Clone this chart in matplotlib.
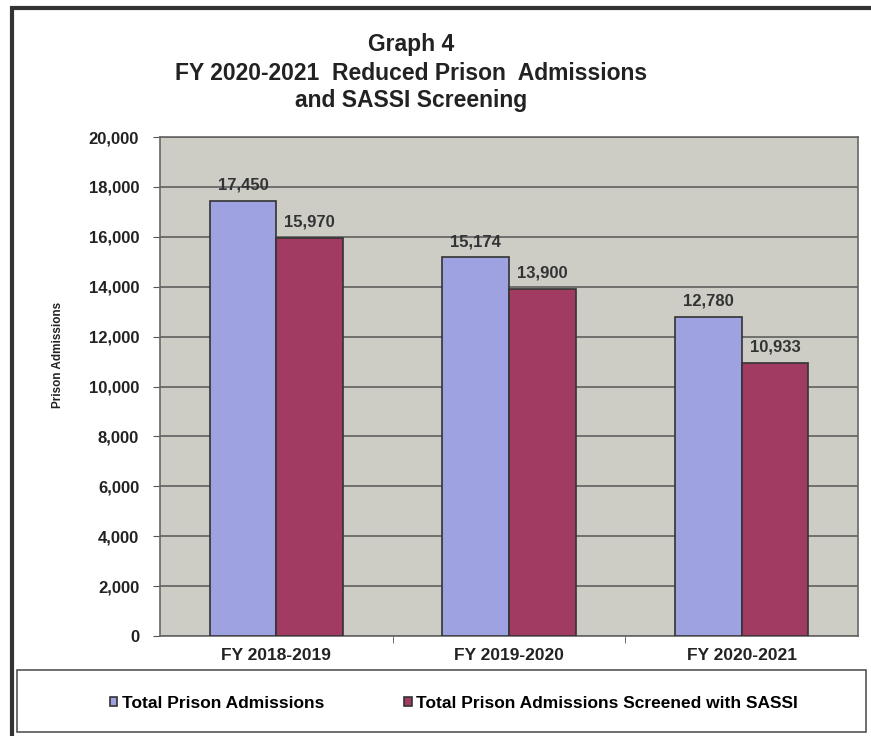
import matplotlib.pyplot as plt
import numpy as np
from matplotlib.patches import Rectangle

plt.rcParams['font.family'] = ['Liberation Sans', 'DejaVu Sans']
plt.rcParams['font.weight'] = 'bold'

years = ['FY 2018-2019', 'FY 2019-2020', 'FY 2020-2021']
total = [17450, 15174, 12780]
screened = [15970, 13900, 10933]
series_names = ['Total Prison Admissions', 'Total Prison Admissions Screened with SASSI']

fig = plt.figure(figsize=(8.71, 7.36), dpi=100)
ax = fig.add_axes([160 / 871, 1 - 636 / 736, 698 / 871, 499 / 736])

x = np.arange(len(years))
w = 0.286
b1 = ax.bar(x - w / 2, total, w, color='#9fa2e0', edgecolor='#333333', linewidth=1.2, label=series_names[0], zorder=3)
b2 = ax.bar(x + w / 2, screened, w, color='#a23b62', edgecolor='#333333', linewidth=1.2, label=series_names[1], zorder=3)

for bars in (b1, b2):
    for r in bars:
        ax.annotate(f'{int(r.get_height()):,}', (r.get_x() + r.get_width() / 2, r.get_height()),
                    xytext=(0, 6), textcoords='offset points', ha='center', va='bottom',
                    fontsize=12, fontweight='bold', color='#333333')

ax.set_facecolor('#cdcdc6')
ax.set_ylim(0, 20000)
ax.set_xlim(-0.5, 2.5)
ax.set_yticks(range(0, 20001, 2000))
ax.set_yticklabels([f'{v:,}' for v in range(0, 20001, 2000)], fontsize=12, fontweight='bold', color='#222222')
ax.yaxis.grid(True, color='#555555', linewidth=1.1, zorder=0)
ax.set_xticks(x)
ax.set_xticklabels(years, fontsize=12.5, fontweight='bold', color='#222222')
ax.tick_params(axis='x', length=0, pad=9)
ax.set_xticks([0.5, 1.5], minor=True)
ax.tick_params(axis='x', which='minor', length=5, color='#555555')
ax.tick_params(axis='y', length=5, color='#555555', pad=10)
for s in ax.spines.values():
    s.set_color('#666666')
    s.set_linewidth(1.2)

fig.text(58 / 871, 1 - 355 / 736, 'Prison Admissions', rotation=90, ha='center', va='center',
         fontsize=8.5, fontweight='bold', color='#222222', family=['Liberation Sans Narrow', 'Liberation Sans'])

tc = 411 / 871
fig.text(tc, 1 - 45 / 736, 'Graph 4', ha='center', va='center', fontsize=16.5, fontweight='bold', color='#222222')
fig.text(tc, 1 - 73 / 736, 'FY 2020-2021  Reduced Prison  Admissions', ha='center', va='center', fontsize=16.5, fontweight='bold', color='#222222')
fig.text(tc, 1 - 100 / 736, 'and SASSI Screening', ha='center', va='center', fontsize=16.5, fontweight='bold', color='#222222')

# outer border (right and bottom fall outside the picture)
fig.patches.append(Rectangle((12 / 871, -10 / 736), 880 / 871, 738 / 736, transform=fig.transFigure,
                             fill=False, edgecolor='#333333', linewidth=3))
# legend box
fig.patches.append(Rectangle((17 / 871, 1 - 732 / 736), 849 / 871, 62 / 736, transform=fig.transFigure,
                             fill=False, edgecolor='#555555', linewidth=1.2))
fig.legend(handles=[b1, b2], loc='center left', bbox_to_anchor=(94 / 871, 1 - 703 / 736), ncol=2,
           frameon=False, handlelength=0.45, handleheight=0.45, handletextpad=0.25,
           columnspacing=4.6, prop={'weight': 'bold', 'size': 12.5})

fig.savefig('out.png', dpi=100)
